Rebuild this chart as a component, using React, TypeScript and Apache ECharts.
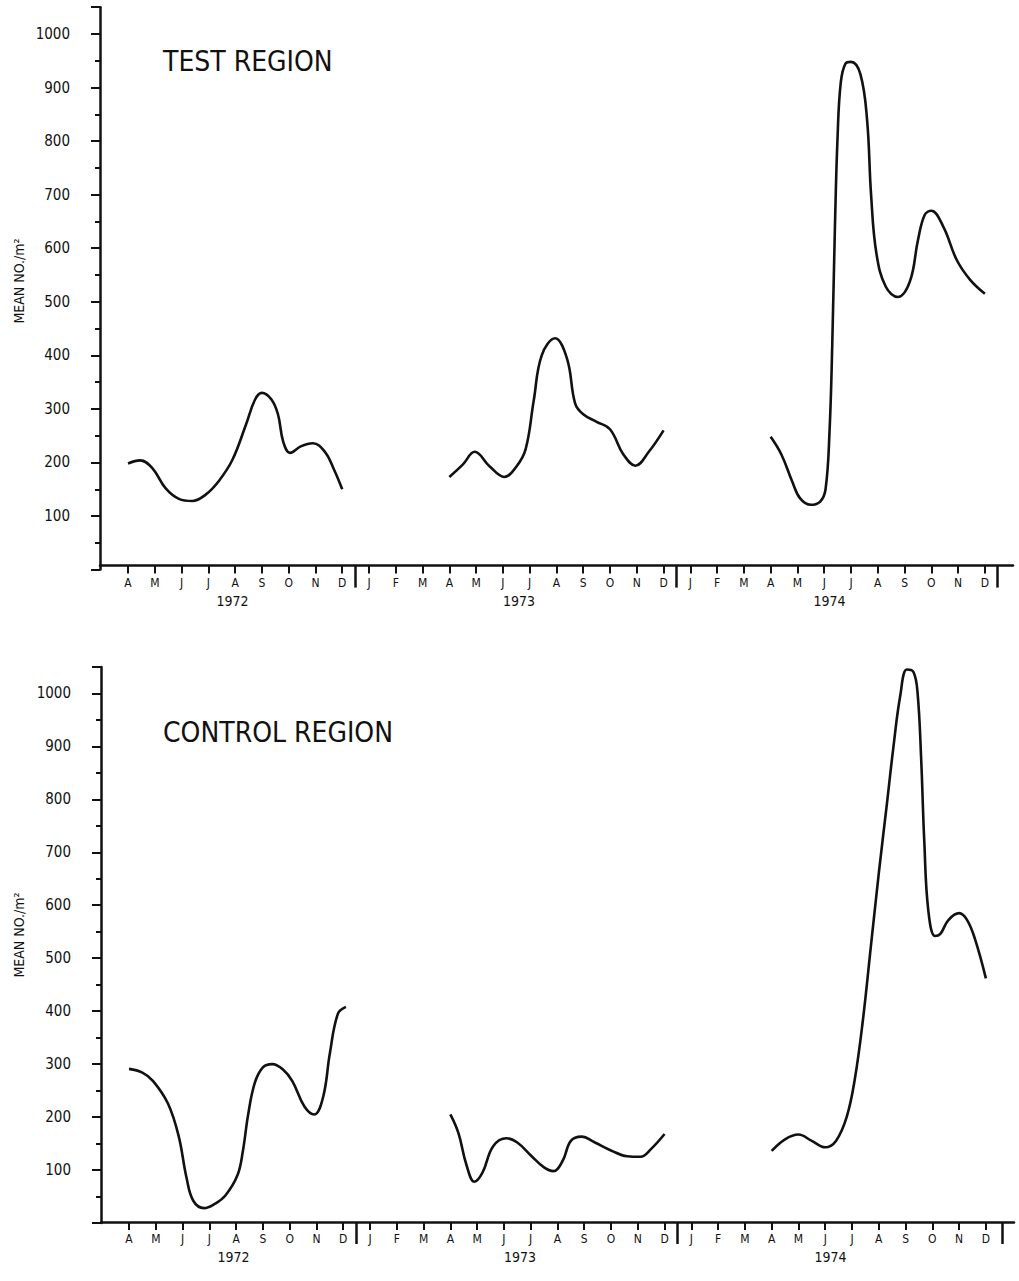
import React, { useEffect, useRef } from 'react';
import * as echarts from 'echarts';

const FONT = '"DejaVu Sans Condensed", "Liberation Sans Narrow", "DejaVu Sans", sans-serif';
const INK = '#111';

// Month letters, Apr 1972 .. Dec 1974 (index 0 .. 32)
const MONTHS = ['A', 'M', 'J', 'J', 'A', 'S', 'O', 'N', 'D',
  'J', 'F', 'M', 'A', 'M', 'J', 'J', 'A', 'S', 'O', 'N', 'D',
  'J', 'F', 'M', 'A', 'M', 'J', 'J', 'A', 'S', 'O', 'N', 'D'];
const MONTH_TICKS = MONTHS.map((_, i) => i);
const YEARS = ['1972', '1973', '1974'];
const YEAR_LABEL_AT = [3.9, 14.6, 26.2];
const YEAR_BREAKS_TOP = [8.49, 20.49, 32.45];
const YEAR_BREAKS_BOTTOM = [8.49, 20.49, 32.6];
const Y_LABELS = [100, 200, 300, 400, 500, 600, 700, 800, 900, 1000];

// TEST REGION  [month index, mean no./m2]
const test1972 = [[0, 198], [0.45, 204], [0.9, 190], [1.4, 152], [1.9, 132], [2.4, 128], [2.9, 140], [3.4, 166], [3.9, 205], [4.4, 270], [4.75, 318], [5.0, 330], [5.35, 318], [5.6, 290], [5.8, 238], [6.05, 218], [6.45, 230], [6.9, 236], [7.35, 220], [7.7, 186], [8.0, 150]];
const test1973 = [[12, 173], [12.5, 196], [12.95, 220], [13.5, 193], [14.05, 173], [14.5, 192], [14.85, 225], [15.15, 315], [15.45, 400], [15.95, 432], [16.4, 393], [16.7, 310], [17.0, 290], [17.5, 276], [18.0, 262], [18.5, 215], [18.95, 194], [19.45, 220], [20.0, 260]];
const test1974 = [[24.0, 248], [24.4, 215], [24.8, 165], [25.1, 133], [25.5, 121], [25.85, 127], [26.05, 150], [26.2, 260], [26.3, 420], [26.4, 640], [26.5, 810], [26.62, 910], [26.8, 945], [27.0, 948], [27.35, 925], [27.6, 840], [27.75, 700], [27.95, 590], [28.3, 528], [28.75, 509], [29.2, 538], [29.5, 615], [29.75, 662], [30.0, 670], [30.45, 640], [30.95, 578], [31.45, 541], [32.0, 515]];

// CONTROL REGION
const control1972 = [[0, 291], [0.5, 284], [0.9, 268], [1.45, 226], [1.85, 165], [2.15, 85], [2.4, 42], [2.8, 28], [3.2, 36], [3.6, 52], [4.05, 90], [4.25, 135], [4.45, 205], [4.7, 265], [5.0, 294], [5.35, 300], [5.75, 290], [6.1, 268], [6.55, 220], [6.92, 205], [7.25, 238], [7.5, 320], [7.8, 395], [8.1, 408]];
const control1973 = [[12, 205], [12.3, 170], [12.6, 110], [12.9, 78], [13.2, 95], [13.6, 145], [14.1, 160], [14.5, 152], [15.0, 128], [15.5, 105], [15.85, 98], [16.2, 118], [16.5, 155], [16.9, 163], [17.4, 152], [18.0, 137], [18.6, 126], [19.1, 125], [19.5, 140], [20.0, 168]];
const control1974 = [[24, 136], [24.5, 158], [25, 167], [25.5, 155], [26, 143], [26.4, 155], [26.8, 200], [27.1, 270], [27.4, 380], [27.7, 520], [28, 660], [28.3, 790], [28.55, 900], [28.8, 995], [29.05, 1045], [29.3, 1040], [29.45, 1000], [29.58, 880], [29.7, 720], [29.85, 590], [30.1, 542], [30.3, 546], [30.6, 572], [31.0, 585], [31.3, 572], [31.6, 535], [32.0, 462]];

const X_MIN = -1.046;
const X_MAX = 33.05;
const Y_MAX = 1050;

function xAxesFor(gridIndex: number, offset: number, breaks: number[]) {
  return [
    {
      type: 'value', gridIndex, position: 'bottom', min: X_MIN, max: X_MAX, offset,
      axisLine: { show: true, onZero: false, lineStyle: { color: INK, width: 2.5 } },
      axisTick: { show: true, customValues: MONTH_TICKS, length: 8, lineStyle: { color: INK, width: 2 } },
      axisLabel: {
        show: true, customValues: MONTH_TICKS, margin: 11, color: INK, fontSize: 12, fontFamily: FONT,
        formatter: (v: number) => MONTHS[Math.round(v)] ?? '',
      },
      splitLine: { show: false },
    },
    {
      type: 'value', gridIndex, position: 'bottom', min: X_MIN, max: X_MAX, offset,
      axisLine: { show: false, onZero: false },
      axisTick: { show: true, customValues: breaks, length: 22, lineStyle: { color: INK, width: 2.5 } },
      axisLabel: {
        show: true, customValues: YEAR_LABEL_AT, margin: 28, color: INK, fontSize: 14, fontFamily: FONT,
        formatter: (v: number) => {
          const i = YEAR_LABEL_AT.findIndex((p) => Math.abs(p - v) < 0.01);
          return i >= 0 ? YEARS[i] : '';
        },
      },
      splitLine: { show: false },
    },
  ];
}

function yAxesFor(gridIndex: number) {
  return [
    {
      type: 'value', gridIndex, position: 'left', min: 0, max: Y_MAX, interval: 50,
      axisLine: { show: true, onZero: false, lineStyle: { color: INK, width: 2.5 } },
      axisTick: { show: true, length: 5, lineStyle: { color: INK, width: 2 } },
      axisLabel: {
        show: true, margin: 30, color: INK, fontSize: 15, fontFamily: FONT,
        formatter: (v: number) => (Y_LABELS.includes(v) ? String(v) : ''),
      },
      splitLine: { show: false },
    },
    {
      type: 'value', gridIndex, position: 'left', offset: 0, min: 0, max: Y_MAX, interval: 100,
      axisLine: { show: false, onZero: false },
      axisTick: { show: true, length: 9, lineStyle: { color: INK, width: 2 } },
      axisLabel: { show: false },
      splitLine: { show: false },
    },
  ];
}

function lineSeries(data: number[][], xAxisIndex: number, yAxisIndex: number) {
  return {
    type: 'line', xAxisIndex, yAxisIndex, data,
    smooth: 0.4, showSymbol: false, silent: true,
    lineStyle: { color: INK, width: 2.6 },
  };
}

const option = {
  animation: false,
  backgroundColor: '#fff',
  grid: [
    { left: 100, top: 7.2, width: 913, height: 562.4, outerBoundsMode: 'none', containLabel: false },
    { left: 101, top: 666.9, width: 913, height: 556.1, outerBoundsMode: 'none', containLabel: false },
  ],
  xAxis: [...xAxesFor(0, -4, YEAR_BREAKS_TOP), ...xAxesFor(1, -1, YEAR_BREAKS_BOTTOM)],
  yAxis: [...yAxesFor(0), ...yAxesFor(1)],
  series: [
    lineSeries(test1972, 0, 0),
    lineSeries(test1973, 0, 0),
    lineSeries(test1974, 0, 0),
    lineSeries(control1972, 2, 2),
    lineSeries(control1973, 2, 2),
    lineSeries(control1974, 2, 2),
  ],
  graphic: [
    {
      type: 'text', left: 163, top: 47,
      style: { text: 'TEST REGION', fontSize: 28, fontFamily: FONT, fill: INK },
    },
    {
      type: 'text', left: 163, top: 718,
      style: { text: 'CONTROL REGION', fontSize: 28, fontFamily: FONT, fill: INK },
    },
    {
      type: 'text', x: 19, y: 281, rotation: Math.PI / 2,
      style: { text: 'MEAN NO./m²', fontSize: 14, fontFamily: FONT, fill: INK, align: 'center', verticalAlign: 'middle' },
    },
    {
      type: 'text', x: 19, y: 935, rotation: Math.PI / 2,
      style: { text: 'MEAN NO./m²', fontSize: 14, fontFamily: FONT, fill: INK, align: 'center', verticalAlign: 'middle' },
    },
  ],
};

export default function App() {
  const ref = useRef<HTMLDivElement>(null);
  useEffect(() => {
    const chart = echarts.init(ref.current!, null, { renderer: 'svg' });
    chart.setOption(option as any);
    return () => chart.dispose();
  }, []);
  return (
    <div
      ref={ref}
      style={{ position: 'absolute', left: 0, top: 0, width: 1019, height: 1281, background: '#fff' }}
    />
  );
}
